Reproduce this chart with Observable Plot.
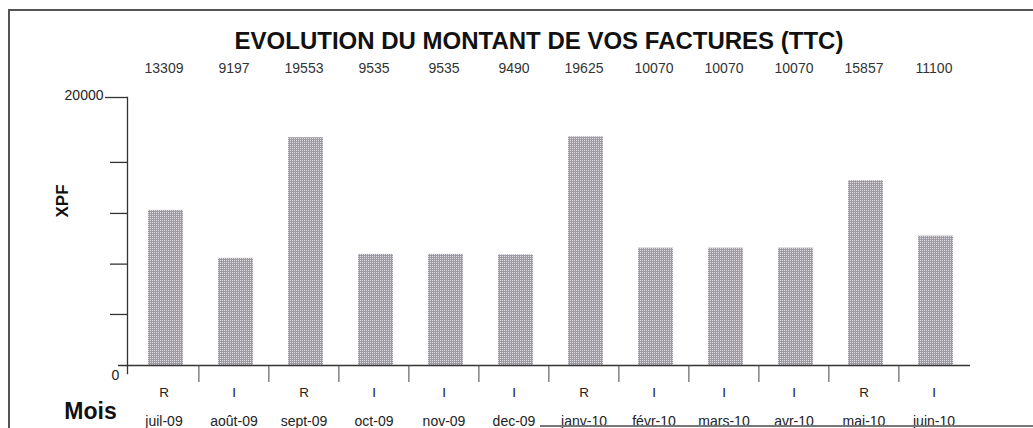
<!DOCTYPE html>
<html>
<head>
<meta charset="utf-8">
<script src="https://cdn.jsdelivr.net/npm/d3@7"></script>
<script src="https://cdn.jsdelivr.net/npm/@observablehq/plot@0.6"></script>
<style>
  html, body { margin: 0; padding: 0; background: #fff; }
  #chart svg { display: block; }
</style>
</head>
<body>
<div id="chart"></div>
<script>
const months = ["juil-09","août-09","sept-09","oct-09","nov-09","dec-09","janv-10","févr-10","mars-10","avr-10","mai-10","juin-10"];
const amounts = [13309, 9197, 19553, 9535, 9535, 9490, 19625, 10070, 10070, 10070, 15857, 11100];
const types = ["R","I","R","I","I","I","R","I","I","I","R","I"];
const yTicks = [0, 4380, 8700, 13050, 17430, 23000];
const yTickLabels = ["0", "", "", "", "", "20000"];
const title = "EVOLUTION DU MONTANT DE VOS FACTURES (TTC)";
const yLabel = "XPF";
const xLabel = "Mois";

const data = months.map((m, i) => ({month: m, amount: amounts[i], type: types[i]}));
const tickData = yTicks.map((v, i) => ({v, label: yTickLabels[i]}));
const font = "'Liberation Sans', Arial, Helvetica, sans-serif";

const plot = Plot.plot({
  width: 1033,
  height: 428,
  marginLeft: 127,
  marginRight: 63,
  marginTop: 97,
  marginBottom: 63,
  style: {fontFamily: font, background: "#fff", color: "#222", overflow: "visible"},
  x: {type: "band", domain: months, paddingInner: 0.5, paddingOuter: 0.25, axis: null},
  y: {domain: [0, 23000], axis: null},
  marks: [
    Plot.barY(data, {x: "month", y: "amount", fill: "url(#dots)", dx: 2}),
    // axes lines
    Plot.frame({anchor: "left", stroke: "#333", strokeWidth: 1.3, insetBottom: -8}),
    Plot.ruleY([0], {stroke: "#333", strokeWidth: 1.3, insetLeft: -9}),
    // y ticks
    Plot.axisY(yTicks.slice(1, -1), {tickSize: 17, tickFormat: () => "", label: null, stroke: "#333", strokeWidth: 1.3}),
    Plot.axisY(yTicks.slice(-1), {tickSize: 22, tickFormat: () => "", label: null, stroke: "#333", strokeWidth: 1.3}),
    Plot.text(tickData.filter(d => d.v > 0 && d.label), {y: "v", text: "label", frameAnchor: "left", textAnchor: "end", dx: -24, dy: -2, fontSize: 14, fill: "#222"}),
    Plot.text(tickData.filter(d => d.v === 0), {y: "v", text: "label", frameAnchor: "left", textAnchor: "middle", dx: -12, dy: 10, fontSize: 14, fill: "#222"}),
    // x separators
    Plot.axisX(months.slice(1), {tickSize: 17, tickFormat: () => "", label: null, dx: -35.1, stroke: "#444", strokeWidth: 1}),
    // category labels
    Plot.text(data, {x: "month", text: "type", frameAnchor: "bottom", lineAnchor: "middle", dy: 27, fontSize: 13.5, fill: "#222"}),
    Plot.text(data, {x: "month", text: "month", frameAnchor: "bottom", lineAnchor: "middle", dy: 56, fontSize: 14, fill: "#222"}),
    // values above
    Plot.text(data, {x: "month", text: d => String(d.amount), frameAnchor: "top", lineAnchor: "bottom", dy: -25, fontSize: 14, fill: "#333"}),
    // title
    Plot.text([title], {frameAnchor: "top", lineAnchor: "bottom", dx: -10, dy: -49, fontSize: 24, fontWeight: "bold", fill: "#111"}),
    // axis titles
    Plot.text([yLabel], {frameAnchor: "left", rotate: -90, dx: -65, dy: -14, fontSize: 17, fontWeight: "bold", fill: "#111"}),
    Plot.text([xLabel], {frameAnchor: "bottom-left", textAnchor: "middle", lineAnchor: "bottom", dx: -37, dy: 53, fontSize: 23, fontWeight: "bold", fill: "#111"})
  ]
});

const svg = d3.select(plot);
const defs = svg.insert("defs", ":first-child");
const pat = defs.append("pattern").attr("id", "dots").attr("patternUnits", "userSpaceOnUse").attr("width", 2).attr("height", 2);
pat.append("rect").attr("width", 2).attr("height", 2).attr("fill", "#9e9aa3");
pat.append("rect").attr("x", 0).attr("y", 0).attr("width", 1).attr("height", 1).attr("fill", "#e2dfe3");

// outer border of the document frame
const border = svg.append("g").attr("fill", "none").attr("stroke", "#555").attr("stroke-width", 2);
border.append("path").attr("d", "M9,428V10H1033");
border.append("path").attr("d", "M540,426H1033").attr("stroke", "#777");

document.getElementById("chart").appendChild(plot);
</script>
</body>
</html>
